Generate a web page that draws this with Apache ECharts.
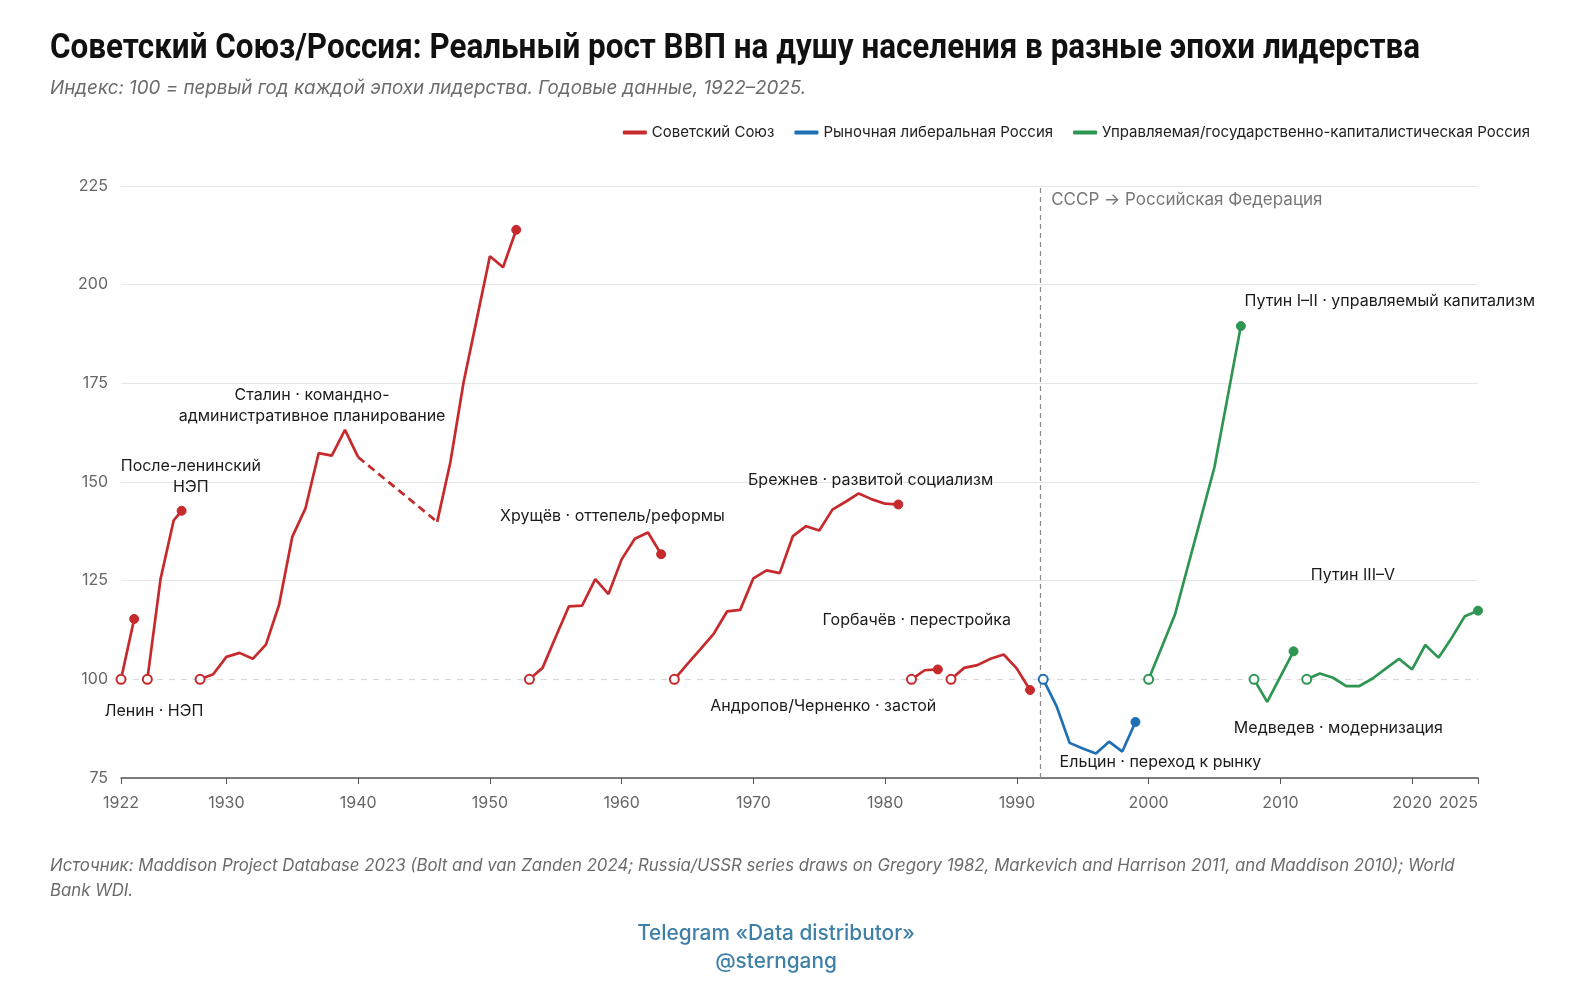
<!DOCTYPE html>
<html>
<head>
<meta charset="utf-8">
<script src="https://cdn.jsdelivr.net/npm/echarts@6/dist/echarts.min.js"></script>
<style>
  html, body { margin: 0; padding: 0; background: #fff; }
  #chart { width: 1577px; height: 997px; }
</style>
</head>
<body>
<div id="chart"></div>
<script>
// годы и индексы (100 = первый год эпохи)
var lenin = [[1922, 100], [1923, 115.3]];
var postLenin = [[1924, 100], [1925, 125.4], [1926, 140.3], [1926.6, 142.7]];
var stalinPre = [[1928, 100], [1929, 101.3], [1930, 105.7], [1931, 106.7], [1932, 105.2], [1933, 108.8],
  [1934, 118.9], [1935, 136.1], [1936, 143.3], [1937, 157.3], [1938, 156.7], [1939, 163.2], [1940, 156.3]];
var stalinWar = [[1940, 156.3], [1946, 139.9]];
var stalinPost = [[1946, 139.9], [1947, 155], [1948, 175.2], [1949, 191.2], [1950, 207.2], [1951, 204.4], [1952, 213.9]];
var khrushchev = [[1953, 100], [1954, 102.9], [1955, 110.8], [1956, 118.5], [1957, 118.7], [1958, 125.4],
  [1959, 121.6], [1960, 130.4], [1961, 135.6], [1962, 137.2], [1963, 131.7]];
var brezhnev = [[1964, 100], [1965, 103.9], [1966, 107.7], [1967, 111.6], [1968, 117.2], [1969, 117.6],
  [1970, 125.6], [1971, 127.6], [1972, 126.9], [1973, 136.3], [1974, 138.8], [1975, 137.7], [1976, 143.0],
  [1977, 145.0], [1978, 147.1], [1979, 145.6], [1980, 144.5], [1981, 144.3]];
var andropov = [[1982, 100], [1983, 102.3], [1984, 102.5]];
var gorbachev = [[1985, 100], [1986, 102.9], [1987, 103.6], [1988, 105.2], [1989, 106.3], [1990, 102.7], [1991, 97.3]];
var yeltsin = [[1992, 100], [1993, 93.3], [1994, 83.9], [1995, 82.5], [1996, 81.2], [1997, 84.2], [1998, 81.7], [1999, 89.2]];
var putin12 = [[2000, 100], [2001, 108.2], [2002, 116.4], [2003, 128.9], [2004, 141.3], [2005, 153.8], [2006, 171.6], [2007, 189.5]];
var medvedev = [[2008, 100], [2009, 94.3], [2010, 100.7], [2011, 107.1]];
var putin35 = [[2012, 100], [2013, 101.5], [2014, 100.4], [2015, 98.3], [2016, 98.3], [2017, 100.2], [2018, 102.7],
  [2019, 105.2], [2020, 102.5], [2021, 108.7], [2022, 105.5], [2023, 110.5], [2024, 116.0], [2025, 117.4]];

var xTicks = [1922, 1930, 1940, 1950, 1960, 1970, 1980, 1990, 2000, 2010, 2020, 2025];
var groupNames = ['Советский Союз', 'Рыночная либеральная Россия', 'Управляемая/государственно-капиталистическая Россия'];
var colors = ['#c62a2d', '#1f6fb4', '#2e9553'];

// подписи эпох (координаты в данных)
var notes = [
  { text: 'Ленин · НЭП', coord: [1924.5, 91.9] },
  { text: 'После-ленинский\nНЭП', coord: [1927.3, 151.4] },
  { text: 'Сталин · командно-\nадминистративное планирование', coord: [1936.5, 169.3] },
  { text: 'Хрущёв · оттепель/реформы', coord: [1959.3, 141.4] },
  { text: 'Брежнев · развитой социализм', coord: [1978.9, 150.4] },
  { text: 'Горбачёв · перестройка', coord: [1982.4, 115.1] },
  { text: 'Андропов/Черненко · застой', coord: [1975.3, 93.2] },
  { text: 'Ельцин · переход к рынку', coord: [2000.9, 79.0] },
  { text: 'Путин I–II · управляемый капитализм', coord: [2018.3, 195.8] },
  { text: 'Путин III–V', coord: [2015.5, 126.3] },
  { text: 'Медведев · модернизация', coord: [2014.4, 87.6] }
];

var FONT = 'Inter, "Noto Sans", sans-serif';
var TITLE = 'Советский Союз/Россия: Реальный рост ВВП на душу населения в разные эпохи лидерства';
var TITLE_FONT = 'bold 35px Roboto, "Noto Sans", sans-serif';

// сжимаем заголовок по ширине (узкий шрифт не установлен)
var ctx = document.createElement('canvas').getContext('2d');
ctx.font = TITLE_FONT;
var titleScale = 1370 / ctx.measureText(TITLE).width;

function era(data, group, opts) {
  opts = opts || {};
  var c = colors[group];
  var last = data.length - 1;
  return {
    name: groupNames[group],
    type: 'line',
    color: c,
    symbolSize: 9,
    lineStyle: { width: 2.7, color: c, type: opts.dashed ? [8, 5] : 'solid' },
    itemStyle: { color: c },
    emphasis: { disabled: true },
    data: data.map(function (d, i) {
      var item = { value: d, symbol: 'none' };
      if (i === 0 && !opts.noStart) {
        item.symbol = 'circle';
        item.itemStyle = { color: '#fff', borderColor: c, borderWidth: 2 };
      } else if (i === last && !opts.noEnd) {
        item.symbol = 'circle';
        item.itemStyle = { color: c, borderColor: c };
      }
      return item;
    })
  };
}

var series = [
  era(lenin, 0),
  era(postLenin, 0),
  era(stalinPre, 0, { noEnd: true }),
  era(stalinWar, 0, { dashed: true, noStart: true, noEnd: true }),
  era(stalinPost, 0, { noStart: true }),
  era(khrushchev, 0),
  era(brezhnev, 0),
  era(andropov, 0),
  era(gorbachev, 0),
  era(yeltsin, 1),
  era(putin12, 2),
  era(medvedev, 2),
  era(putin35, 2)
];

// вспомогательная серия: пунктиры и подписи
series.push({
  name: 'helper',
  type: 'line',
  data: [],
  silent: true,
  markLine: {
    silent: true,
    z: 1,
    symbol: ['none', 'none'],
    label: { show: false },
    data: [
      { yAxis: 100, lineStyle: { color: '#d9d9d9', type: [6, 6], width: 1.2 } },
      { xAxis: 1991.8, lineStyle: { color: '#8a8a8a', type: [5, 4], width: 1.2 } }
    ]
  },
  markPoint: {
    silent: true,
    symbol: 'circle',
    symbolSize: 1,
    itemStyle: { color: 'rgba(0,0,0,0)' },
    data: notes.map(function (n) {
      return {
        coord: n.coord,
        label: {
          show: true,
          position: 'inside',
          formatter: n.text,
          color: '#1b1b1b',
          fontSize: 16,
          lineHeight: 21,
          fontFamily: FONT,
          align: 'center',
          verticalAlign: 'middle'
        }
      };
    }).concat([{
      coord: [1992.6, 221.6],
      label: {
        show: true,
        position: 'inside',
        formatter: 'СССР → Российская Федерация',
        color: '#777',
        fontSize: 17,
        fontFamily: FONT,
        align: 'left',
        verticalAlign: 'middle'
      }
    }])
  }
});

var option = {
  backgroundColor: '#fff',
  animation: false,
  graphic: [
    {
      type: 'text',
      x: 50,
      y: 32,
      scaleX: titleScale,
      style: { text: TITLE, font: TITLE_FONT, fill: '#111', verticalAlign: 'top', align: 'left' }
    }
  ],
  title: [
    {
      text: 'Индекс: 100 = первый год каждой эпохи лидерства. Годовые данные, 1922–2025.',
      left: 50,
      top: 79,
      padding: 0,
      textStyle: { fontSize: 18.8, fontStyle: 'italic', fontWeight: 'normal', color: '#6b6b6b', fontFamily: FONT }
    },
    {
      text: 'Источник: Maddison Project Database 2023 (Bolt and van Zanden 2024; Russia/USSR series draws on Gregory 1982, Markevich and Harrison 2011, and Maddison 2010); World\nBank WDI.',
      left: 50,
      top: 853,
      padding: 0,
      textStyle: { fontSize: 16.8, fontStyle: 'italic', fontWeight: 'normal', color: '#6b6b6b', lineHeight: 25, fontFamily: FONT }
    },
    {
      text: 'Telegram «Data distributor»\n@sterngang',
      left: 776,
      top: 920,
      padding: 0,
      textAlign: 'center',
      textStyle: { fontSize: 20.8, fontWeight: 500, color: '#3f80a8', lineHeight: 28, align: 'center', fontFamily: FONT }
    }
  ],
  legend: {
    data: groupNames,
    right: 42,
    top: 120,
    icon: 'roundRect',
    itemWidth: 24,
    itemHeight: 4,
    itemGap: 20,
    textStyle: { fontSize: 15, color: '#222', fontFamily: FONT }
  },
  grid: { left: 121, right: 99, top: 186, bottom: 219, containLabel: false },
  xAxis: {
    type: 'value',
    min: 1922,
    max: 2025,
    axisLine: { lineStyle: { color: '#555', width: 1.5 } },
    axisTick: { show: true, length: 6, customValues: xTicks, lineStyle: { color: '#555' } },
    axisLabel: {
      customValues: xTicks,
      formatter: function (v) { return String(v); },
      alignMaxLabel: 'right',
      fontSize: 16,
      color: '#666',
      margin: 17,
      fontFamily: FONT
    },
    splitLine: { show: false }
  },
  yAxis: {
    type: 'value',
    min: 75,
    max: 225,
    interval: 25,
    axisLine: { show: false },
    axisTick: { show: false },
    axisLabel: { fontSize: 16, color: '#666', margin: 13, fontFamily: FONT },
    splitLine: { lineStyle: { color: ['#e6e6e6', 'rgba(0,0,0,0)', '#e6e6e6', '#e6e6e6', '#e6e6e6', '#e6e6e6', '#e6e6e6'], width: 1 } }
  },
  series: series
};

var chart = echarts.init(document.getElementById('chart'));
chart.setOption(option);
</script>
</body>
</html>
